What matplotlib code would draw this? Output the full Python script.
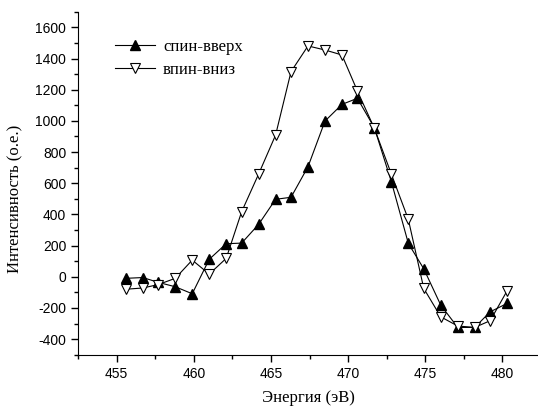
import matplotlib
matplotlib.use('Agg')
import matplotlib.pyplot as plt
from matplotlib.ticker import MultipleLocator

# Энергия фотонов (эВ)
energia = [455.6, 456.7, 457.7, 458.8, 459.9, 461.0, 462.1, 463.1, 464.2, 465.3,
           466.3, 467.4, 468.5, 469.6, 470.6, 471.7, 472.8, 473.9, 474.9, 476.0,
           477.1, 478.2, 479.2, 480.3]

# Интенсивность для спин-вверх
spin_up = [-10, -5, -36, -64, -109, 112, 212, 216, 336, 497,
           510, 706, 999, 1106, 1145, 956, 610, 214, 51, -182,
           -325, -325, -225, -171]

# Интенсивность для спин-вниз
spin_down = [-80, -72, -50, -10, 107, 17, 118, 417, 659, 909,
             1316, 1481, 1455, 1423, 1192, 952, 659, 368, -75, -257,
             -316, -325, -282, -90]

plt.rcParams['font.family'] = ['Liberation Sans', 'DejaVu Sans']
plt.rcParams['axes.unicode_minus'] = False

fig = plt.figure(figsize=(5.38, 4.07), dpi=100)
ax = fig.add_axes([0.145, 0.1285, 0.855, 0.8425])

ax.plot(energia, spin_up, color='black', lw=0.8, marker='^', markersize=7,
        markerfacecolor='black', markeredgecolor='black', label='спин-вверх')
ax.plot(energia, spin_down, color='black', lw=0.8, marker='v', markersize=7,
        markerfacecolor='white', markeredgecolor='black', markeredgewidth=0.8,
        label='впин-вниз')

ax.set_xlim(452.5, 482.3)
ax.set_ylim(-500, 1700)
ax.xaxis.set_major_locator(MultipleLocator(5))
ax.xaxis.set_minor_locator(MultipleLocator(2.5))
ax.yaxis.set_major_locator(MultipleLocator(200))
ax.yaxis.set_minor_locator(MultipleLocator(100))
ax.tick_params(which='major', direction='out', length=5, width=1, labelsize=10)
ax.tick_params(which='minor', direction='out', length=3, width=1)

ax.spines['top'].set_visible(False)
ax.spines['right'].set_visible(False)

serif = ['Liberation Serif', 'DejaVu Serif']
ax.set_xlabel('Энергия (эВ)', family=serif, fontsize=12, labelpad=7)
ax.set_ylabel('Интенсивность (о.е.)', family=serif, fontsize=12)
ax.yaxis.set_label_coords(-0.118, 0.455)

leg = ax.legend(loc='upper left', bbox_to_anchor=(0.047, 0.965), frameon=False,
                handlelength=2.4, handletextpad=0.5, labelspacing=0.45,
                prop={'family': serif, 'size': 12})

plt.savefig('out.png', dpi=100)
